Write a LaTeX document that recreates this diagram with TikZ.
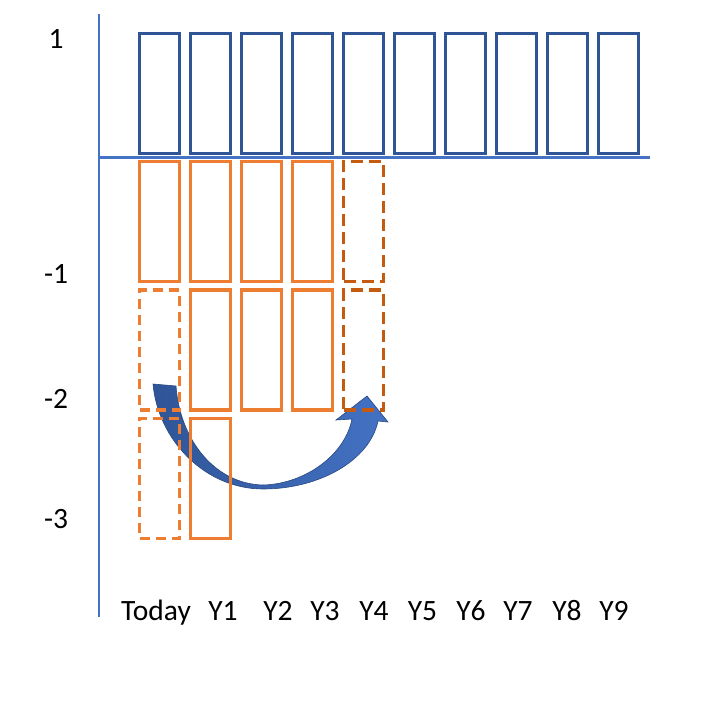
\documentclass[tikz,border=0pt]{standalone}
\usepackage{fontspec}
\setmainfont{Carlito}
\definecolor{axisblue}{HTML}{4472C4}
\definecolor{boxblue}{HTML}{2F5597}
\definecolor{boxorange}{HTML}{ED7D31}
\definecolor{boxbrown}{HTML}{C55A11}
\begin{document}
\begin{tikzpicture}[x=1pt,y=-1pt,
  cell/.style={rectangle,minimum width=39.5pt,minimum height=120pt,inner sep=0pt,outer sep=0pt,line width=3.3pt},
  bluebox/.style={cell,draw=boxblue},
  orangebox/.style={cell,draw=boxorange},
  orangedash/.style={cell,draw=boxorange,dash pattern=on 10pt off 6pt},
  browndash/.style={cell,draw=boxbrown,dash pattern=on 12pt off 6pt},
  axisline/.style={draw=axisblue,line width=2.5pt},
  lab/.style={font=\fontsize{29.5}{31}\selectfont,inner sep=0pt,anchor=base}]
\useasboundingbox (0,0) rectangle (720,720);
% axes
\coordinate (ytop) at (99,14);
\coordinate (ybot) at (99,617);
\coordinate (xl) at (99,157.5);
\coordinate (xr) at (650,157.5);
\draw[axisline] (ytop) -- (ybot);
\draw[axisline] (xl) -- (xr);
% curved arrow (behind boxes)
\path[left color=boxblue,right color=axisblue,draw=boxblue!85!black,line width=0.6pt]
  (153,384) .. controls (158,440) and (205,489) .. (263,489)
  .. controls (320,489) and (370,460) .. (378,421)
  -- (388,422) -- (367,396) -- (336,420) -- (352,419)
  .. controls (345,455) and (305,484) .. (263,485)
  .. controls (215,484) and (180,440) .. (176,386) -- cycle;
% blue row
\foreach \i in {0,...,9}{
  \node[bluebox] (b\i) at ({159.5+51*\i},93.4) {};
}
% orange row 1
\foreach \i in {0,...,3}{
  \node[orangebox] (r1c\i) at ({159.5+51*\i},221.2) {};
}
\node[browndash] (r1c4) at ({159.5+51*4},221.2) {};
% orange row 2
\node[orangedash] (r2c0) at (159.5,350) {};
\foreach \i in {1,...,3}{
  \node[orangebox] (r2c\i) at ({159.5+51*\i},350) {};
}
\node[browndash] (r2c4) at ({159.5+51*4},350) {};
% orange row 3
\node[orangedash] (r3c0) at (159.5,478.3) {};
\node[orangebox] (r3c1) at (210.5,478.3) {};
% axis labels
\node[lab] (l1) at (56,48.5) {1};
\node[lab] (lm1) at (56,283) {-1};
\node[lab] (lm2) at (56,408) {-2};
\node[lab] (lm3) at (56,528) {-3};
% year labels
\node[lab] (t0) at (156,620) {Today};
\node[lab] (t1) at (223,620) {Y1};
\node[lab] (t2) at (278,620) {Y2};
\node[lab] (t3) at (325,620) {Y3};
\node[lab] (t4) at (374,620) {Y4};
\node[lab] (t5) at (422.5,620) {Y5};
\node[lab] (t6) at (471,620) {Y6};
\node[lab] (t7) at (518,620) {Y7};
\node[lab] (t8) at (567,620) {Y8};
\node[lab] (t9) at (614,620) {Y9};
\end{tikzpicture}
\end{document}
